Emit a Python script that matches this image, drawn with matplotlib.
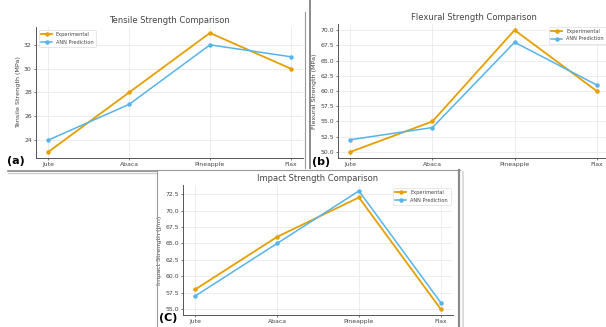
import matplotlib

matplotlib.use("Agg")
import matplotlib.pyplot as plt
from matplotlib.lines import Line2D

fibres = ["Jute", "Abaca", "Pineapple", "Flax"]

tensile_exp = [23, 28, 33, 30]
tensile_ann = [24, 27, 32, 31]
flexural_exp = [50, 55, 70, 60]
flexural_ann = [52, 54, 68, 61]
impact_exp = [58, 66, 72, 55]
impact_ann = [57, 65, 73, 56]

EXP_C = "#E69F00"
ANN_C = "#56B4E9"

W, H = 606, 327


def px_axes(fig, x0, y0, x1, y1):
    # pixel box (top-left origin) -> figure fraction axes
    return fig.add_axes([x0 / W, 1 - y1 / H, (x1 - x0) / W, (y1 - y0) / H])


def panel(ax, title, ylabel, exp, ann, yticks, legend_loc):
    ax.plot(fibres, exp, color=EXP_C, marker="o", ms=2.2, lw=1.3, label="Experimental")
    ax.plot(fibres, ann, color=ANN_C, marker="o", ms=2.2, lw=1.1, label="ANN Prediction")
    ax.set_title(title, fontsize=6.0, color="#444444", pad=3)
    ax.set_ylabel(ylabel, fontsize=4.6, color="#444444", labelpad=2)
    ax.set_yticks(yticks)
    ax.tick_params(labelsize=4.4, colors="#444444", length=1.5, width=0.5, pad=1.5)
    ax.grid(True, color="#e6e6e6", lw=0.5)
    ax.set_axisbelow(True)
    for s in ("top", "right"):
        ax.spines[s].set_visible(False)
    for s in ("left", "bottom"):
        ax.spines[s].set_color("#555555")
        ax.spines[s].set_linewidth(0.7)
    leg = ax.legend(loc=legend_loc, fontsize=3.6, frameon=True, handlelength=2.2,
                    borderpad=0.5, labelspacing=0.5, fancybox=True)
    leg.get_frame().set_linewidth(0.4)
    leg.get_frame().set_edgecolor("#cccccc")
    for t in leg.get_texts():
        t.set_color("#444444")


fig = plt.figure(figsize=(W / 100, H / 100), dpi=100)

ax_a = px_axes(fig, 36, 27, 303, 158)
panel(ax_a, "Tensile Strength Comparison", "Tensile Strength (MPa)",
      tensile_exp, tensile_ann, [24, 26, 28, 30, 32], "upper left")

ax_b = px_axes(fig, 338, 24, 609, 158)
panel(ax_b, "Flexural Strength Comparison", "Flexural Strength (MPa)",
      flexural_exp, flexural_ann,
      [50.0, 52.5, 55.0, 57.5, 60.0, 62.5, 65.0, 67.5, 70.0], "upper right")
ax_b.set_yticklabels([f"{v:.1f}" for v in ax_b.get_yticks()])

ax_c = px_axes(fig, 183, 185, 453, 315)
panel(ax_c, "Impact Strength Comparison", "Impact Strength (J/m)",
      impact_exp, impact_ann,
      [55.0, 57.5, 60.0, 62.5, 65.0, 67.5, 70.0, 72.5], "upper right")
ax_c.set_yticklabels([f"{v:.1f}" for v in ax_c.get_yticks()])

# screenshot frames


def seg(x0, y0, x1, y1, c="#8a8a8a", lw=1.2):
    fig.add_artist(Line2D([x0 / W, x1 / W], [1 - y0 / H, 1 - y1 / H],
                          color=c, lw=lw, transform=fig.transFigure))


seg(8, 171, 157, 171)
seg(8, 173, 157, 173, c="#cfcfcf", lw=1.0)
seg(305, 12, 305, 168, c="#9a9a9a", lw=0.8)
seg(310, 0, 310, 168, c="#8a8a8a", lw=1.4)
seg(157, 170, 157, 327, c="#9a9a9a", lw=0.8)
seg(157, 170, 460, 170, c="#9a9a9a", lw=0.8)
seg(459, 170, 459, 327, c="#8a8a8a", lw=1.6)
seg(463, 172, 463, 327, c="#d5d5d5", lw=1.2)

fig.text(7 / W, 1 - 161 / H, "(a)", fontsize=8, fontweight="bold", va="center")
fig.text(312 / W, 1 - 162 / H, "(b)", fontsize=8, fontweight="bold", va="center")
fig.text(159 / W, 1 - 318 / H, "(C)", fontsize=8, fontweight="bold", va="center")

fig.savefig("out.png", dpi=100)
